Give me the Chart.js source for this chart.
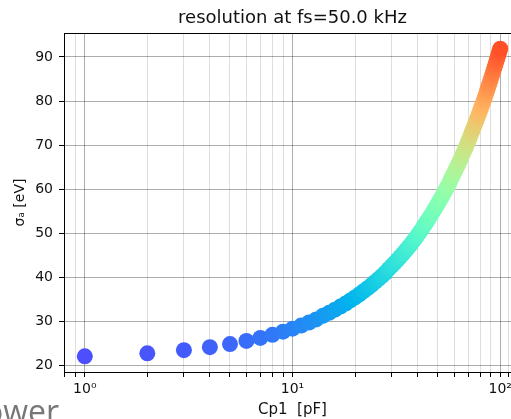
<!DOCTYPE html>
<html>
<head>
<meta charset="utf-8">
<script src="https://cdn.jsdelivr.net/npm/chart.js@4/dist/chart.umd.min.js"></script>
<style>
  html, body { margin: 0; padding: 0; background: #fff; overflow: hidden; }
  #wrap { position: relative; width: 511px; height: 419px; overflow: hidden; }
  #chart { position: absolute; left: 0; top: 0; }
  #stray { position: absolute; left: -16px; top: 395px; font: 32px/1 "Open Sans", sans-serif; color: #777; white-space: nowrap; }
</style>
</head>
<body>
<div id="wrap">
  <canvas id="chart" width="530" height="419"></canvas>
  <div id="stray">ower</div>
</div>
<script>
// Cp1 values [pF]
const cp1 = [];
for (let i = 1; i <= 100; i++) cp1.push(i);

// sigma_a [eV]
const sigmaA = [
  22.0, 22.7, 23.4, 24.1, 24.8, 25.5, 26.2, 26.9, 27.6, 28.3,
  29.0, 29.7, 30.4, 31.2, 31.9, 32.6, 33.3, 34.0, 34.7, 35.4,
  36.1, 36.8, 37.5, 38.2, 38.9, 39.6, 40.3, 41.0, 41.8, 42.5,
  43.2, 43.9, 44.6, 45.3, 46.0, 46.7, 47.4, 48.1, 48.8, 49.5,
  50.2, 50.9, 51.7, 52.4, 53.1, 53.8, 54.5, 55.2, 55.9, 56.6,
  57.3, 58.0, 58.7, 59.4, 60.1, 60.8, 61.5, 62.3, 63.0, 63.7,
  64.4, 65.1, 65.8, 66.5, 67.2, 67.9, 68.6, 69.3, 70.0, 70.7,
  71.4, 72.2, 72.9, 73.6, 74.3, 75.0, 75.7, 76.4, 77.1, 77.8,
  78.5, 79.2, 79.9, 80.6, 81.3, 82.0, 82.8, 83.5, 84.2, 84.9,
  85.6, 86.3, 87.0, 87.7, 88.4, 89.1, 89.8, 90.5, 91.2, 91.9
];

const yTicks = [20, 30, 40, 50, 60, 70, 80, 90];
const xTicks = [0.8, 0.9, 1, 2, 3, 4, 5, 6, 7, 8, 9, 10, 20, 30, 40, 50, 60, 70, 80, 90, 100, 110, 120];
const supers = { 0: '10\u2070', 1: '10\u00b9', 2: '10\u00b2' };

// matplotlib 'rainbow'
function rainbow(t) {
  const c = v => Math.round(Math.max(0, Math.min(1, v)) * 255);
  return `rgb(${c(Math.abs(2 * t - 0.5))},${c(Math.sin(Math.PI * t))},${c(Math.cos(Math.PI * t / 2))})`;
}
const colors = sigmaA.map(v => rainbow(0.1 + 0.8 * (v - 22) / 70));

const isMajor = v => Math.abs(Math.log10(v) - Math.round(Math.log10(v))) < 1e-9;

const frame = {
  id: 'frame',
  afterDatasetsDraw(chart) {
    const a = chart.chartArea, ctx = chart.ctx;
    ctx.save();
    ctx.strokeStyle = '#000';
    ctx.lineWidth = 1;
    ctx.strokeRect(a.left + 0.5, a.top + 0.5, a.right - a.left, a.bottom - a.top);
    ctx.restore();
  }
};

new Chart(document.getElementById('chart'), {
  type: 'scatter',
  data: {
    datasets: [{
      data: cp1.map((x, i) => ({ x, y: sigmaA[i] })),
      pointRadius: 8,
      pointHoverRadius: 8,
      pointBackgroundColor: colors,
      pointBorderWidth: 0
    }]
  },
  options: {
    responsive: false,
    animation: false,
    layout: { padding: { left: 0, right: 9, top: 0, bottom: 0 } },
    plugins: {
      legend: { display: false },
      tooltip: { enabled: false },
      title: {
        display: true,
        fullSize: false,
        text: 'resolution at fs=50.0 kHz',
        color: '#111',
        font: { family: 'DejaVu Sans', size: 18, weight: 'normal' },
        padding: { top: 8, bottom: 3.4 }
      }
    },
    scales: {
      x: {
        type: 'logarithmic',
        min: 0.794,
        max: 125.9,
        afterBuildTicks: s => { s.ticks = xTicks.map(v => ({ value: v })); },
        afterFit: s => { s.height = 47; },
        ticks: {
          autoSkip: false,
          maxRotation: 0,
          color: '#111',
          padding: 4,
          font: { family: 'DejaVu Sans', size: 14 },
          callback: v => isMajor(v) ? supers[Math.round(Math.log10(v))] : ''
        },
        grid: {
          color: c => isMajor(c.tick.value) ? 'rgba(0,0,0,0.32)' : 'rgba(0,0,0,0.13)',
          tickColor: '#000',
          tickLength: 5
        },
        border: { color: '#000' },
        title: {
          display: true,
          text: 'Cp1  [pF]',
          color: '#111',
          font: { family: 'DejaVu Sans', size: 15 },
          padding: { top: 0, bottom: 0 }
        }
      },
      y: {
        min: 18.45,
        max: 95.45,
        afterBuildTicks: s => { s.ticks = yTicks.map(v => ({ value: v })); },
        afterFit: s => { s.width = 64; },
        ticks: {
          color: '#111',
          padding: 6,
          font: { family: 'DejaVu Sans', size: 14 }
        },
        grid: {
          color: 'rgba(0,0,0,0.32)',
          tickColor: '#000',
          tickLength: 5
        },
        border: { color: '#000' },
        title: {
          display: true,
          text: '\u03c3\u2090 [eV]',
          color: '#111',
          font: { family: 'DejaVu Sans', size: 14 },
          padding: { top: 12, bottom: 0 }
        }
      }
    }
  },
  plugins: [frame]
});
</script>
</body>
</html>
